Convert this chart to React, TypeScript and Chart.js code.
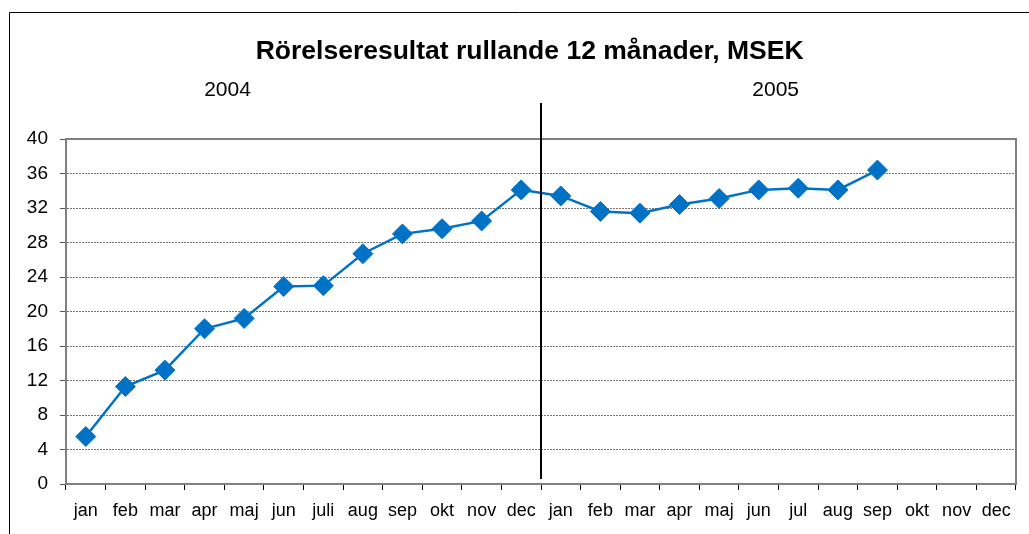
import { useEffect, useRef } from 'react';
import { Chart, registerables } from 'chart.js';

Chart.register(...registerables);

const months2004 = ['jan', 'feb', 'mar', 'apr', 'maj', 'jun', 'juli', 'aug', 'sep', 'okt', 'nov', 'dec'];
const months2005 = ['jan', 'feb', 'mar', 'apr', 'maj', 'jun', 'jul', 'aug', 'sep', 'okt', 'nov', 'dec'];
const categories = [...months2004, ...months2005];

const values2004 = [5.5, 11.3, 13.2, 18.0, 19.2, 22.9, 23.0, 26.7, 29.0, 29.6, 30.5, 34.1];
const values2005: (number | null)[] = [33.4, 31.6, 31.4, 32.4, 33.1, 34.1, 34.3, 34.1, 36.4, null, null, null];
const seriesValues = [...values2004, ...values2005];

const yearLabels = ['2004', '2005'];
const titleText = 'Rörelseresultat rullande 12 månader, MSEK';

const FONT = "'Liberation Sans', Arial, Helvetica, sans-serif";
const BLUE = '#0072C6';

const decorPlugin = {
  id: 'decor',
  afterDraw(chart: any) {
    const { ctx, chartArea } = chart;
    const xs = chart.scales.x;
    ctx.save();
    // outer frame
    ctx.strokeStyle = '#000';
    ctx.lineWidth = 1;
    ctx.beginPath();
    ctx.moveTo(9.5, chart.height + 2);
    ctx.lineTo(9.5, 12.5);
    ctx.lineTo(chart.width + 2, 12.5);
    ctx.stroke();
    // plot frame top & right
    ctx.strokeStyle = '#808080';
    ctx.lineWidth = 2;
    ctx.beginPath();
    ctx.moveTo(chartArea.left, chartArea.top);
    ctx.lineTo(chartArea.right, chartArea.top);
    ctx.lineTo(chartArea.right, chartArea.bottom);
    ctx.stroke();
    // year separator
    const sep = Math.round((xs.getPixelForValue(11) + xs.getPixelForValue(12)) / 2);
    ctx.strokeStyle = '#000';
    ctx.lineWidth = 2;
    ctx.beginPath();
    ctx.moveTo(sep, chartArea.top - 36);
    ctx.lineTo(sep, chartArea.bottom - 5);
    ctx.stroke();
    // title
    const w = chartArea.right - chartArea.left;
    ctx.fillStyle = '#000';
    ctx.textAlign = 'center';
    ctx.textBaseline = 'middle';
    ctx.font = `bold 26.5px ${FONT}`;
    ctx.fillText(titleText, chartArea.left + 0.488 * w, chartArea.top - 87.5);
    // year labels
    ctx.font = `21px ${FONT}`;
    ctx.fillText(yearLabels[0], chartArea.left + 0.17 * w, chartArea.top - 49);
    ctx.fillText(yearLabels[1], chartArea.left + 0.747 * w, chartArea.top - 49);
    ctx.restore();
  },
};

export default function App() {
  const ref = useRef<HTMLCanvasElement>(null);
  useEffect(() => {
    const chart = new Chart(ref.current!, {
      type: 'line',
      data: {
        labels: categories,
        datasets: [
          {
            data: seriesValues,
            borderColor: BLUE,
            backgroundColor: BLUE,
            borderWidth: 2.5,
            pointStyle: 'rectRot',
            pointRadius: 10,
            pointBorderWidth: 1,
            pointBorderColor: BLUE,
            pointBackgroundColor: BLUE,
            spanGaps: false,
            tension: 0,
          },
        ],
      },
      options: {
        animation: false,
        responsive: false,
        devicePixelRatio: 1,
        layout: { padding: { top: 139, left: 0, right: 13, bottom: 0 } },
        plugins: {
          legend: { display: false },
          tooltip: { enabled: false },
          title: { display: false },
        },
        scales: {
          x: {
            type: 'category',
            offset: true,
            afterFit(scale: any) {
              scale.height = 50;
            },
            grid: {
              display: true,
              offset: true,
              drawOnChartArea: false,
              drawTicks: true,
              tickLength: 6,
              tickColor: '#000',
              tickWidth: 1,
            },
            border: { display: true, color: '#808080', width: 2 },
            ticks: {
              color: '#000',
              font: { family: FONT, size: 18 },
              padding: 10,
              maxRotation: 0,
              autoSkip: false,
            },
          },
          y: {
            min: 0,
            max: 40,
            afterFit(scale: any) {
              scale.width = 66;
            },
            grid: {
              display: true,
              color: '#777',
              lineWidth: 1,
              drawTicks: true,
              tickLength: 6,
              tickColor: '#555',
              tickWidth: 1,
            },
            border: { display: true, color: '#808080', width: 2, dash: [2, 1] },
            ticks: {
              stepSize: 4,
              color: '#000',
              font: { family: FONT, size: 19 },
              padding: 12,
            },
          },
        },
      },
      plugins: [decorPlugin],
    });
    return () => chart.destroy();
  }, []);
  return (
    <div style={{ position: 'fixed', left: 0, top: 0, width: 1029, height: 534, background: '#fff' }}>
      <canvas ref={ref} width={1029} height={534} style={{ width: 1029, height: 534, display: 'block' }} />
    </div>
  );
}
